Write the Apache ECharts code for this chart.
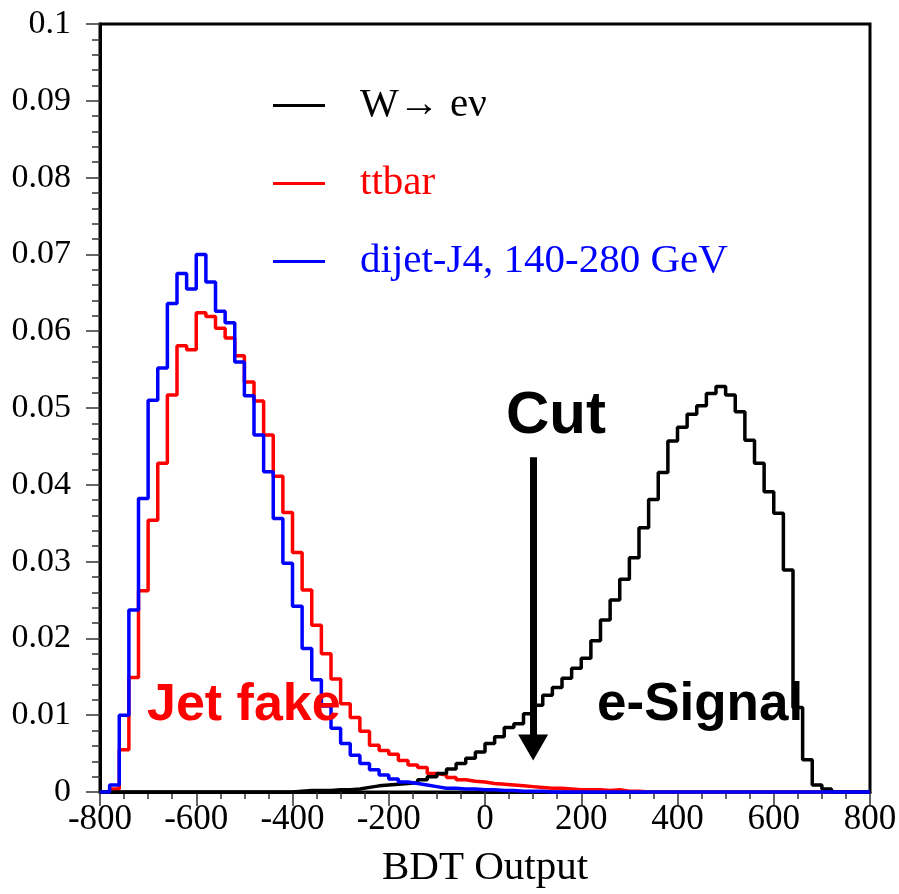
<!DOCTYPE html>
<html>
<head>
<meta charset="utf-8">
<script src="https://cdn.jsdelivr.net/npm/echarts@6/dist/echarts.min.js"></script>
<style>
  html, body { margin: 0; padding: 0; background: #fff; }
  #chart { width: 899px; height: 894px; }
</style>
</head>
<body>
<div id="chart"></div>
<script>
// Histogram binning: 80 bins of width 20 from -800 to 800
const BIN_MIN = -800;
const BIN_WIDTH = 20;

// Normalised BDT output distributions (fraction per bin)
const wenu = [
  0, 0, 0, 0, 0, 0, 0, 0, 0, 0,
  0, 0, 0, 0, 0, 0, 0, 0, 0, 0,
  0.0001, 0.0002, 0.0002, 0.0002, 0.0003, 0.0003, 0.0004, 0.0006, 0.0008, 0.0009,
  0.0010, 0.0011, 0.0012, 0.0016, 0.0020, 0.0024, 0.0030, 0.0037, 0.0044, 0.0052,
  0.0063, 0.0072, 0.0084, 0.0089, 0.0102, 0.0113, 0.0126, 0.0136, 0.0148, 0.0161,
  0.0174, 0.0197, 0.0224, 0.0250, 0.0277, 0.0305, 0.0344, 0.0381, 0.0416, 0.0457,
  0.0475, 0.0492, 0.0503, 0.0519, 0.0528, 0.0517, 0.0495, 0.0458, 0.0428, 0.0391,
  0.0363, 0.0289, 0.0110, 0.0042, 0.0009, 0.0004, 0, 0, 0, 0
];

const ttbar = [
  0, 0.0004, 0.0055, 0.0149, 0.0262, 0.0354, 0.0428, 0.0517, 0.0581, 0.0576,
  0.0624, 0.0619, 0.0604, 0.0591, 0.0568, 0.0534, 0.0509, 0.0465, 0.0411, 0.0364,
  0.0312, 0.0263, 0.0217, 0.0180, 0.0147, 0.0115, 0.0097, 0.0079, 0.0061, 0.0054,
  0.0049, 0.0041, 0.0035, 0.0032, 0.0024, 0.0022, 0.0019, 0.0016, 0.0014, 0.0013,
  0.0011, 0.0010, 0.0009, 0.0008, 0.0007, 0.0006, 0.0005, 0.0005, 0.0004, 0.0003,
  0.0003, 0.0003, 0.0002, 0.0003, 0.0001, 0.0001, 0, 0, 0, 0,
  0, 0, 0, 0, 0, 0, 0, 0, 0, 0,
  0, 0, 0, 0, 0, 0, 0, 0, 0, 0
];

const dijet = [
  0, 0.0009, 0.0100, 0.0237, 0.0382, 0.0510, 0.0552, 0.0636, 0.0675, 0.0655,
  0.0700, 0.0664, 0.0626, 0.0611, 0.0560, 0.0516, 0.0465, 0.0417, 0.0356, 0.0298,
  0.0242, 0.0187, 0.0146, 0.0112, 0.0083, 0.0063, 0.0048, 0.0037, 0.0029, 0.0022,
  0.0017, 0.0013, 0.0011, 0.0009, 0.0007, 0.0005, 0.0005, 0.0004, 0.0004, 0.0003,
  0.0003, 0.0002, 0.0002, 0.0001, 0.0001, 0.0001, 0, 0, 0, 0,
  0, 0, 0, 0, 0, 0, 0, 0, 0, 0,
  0, 0, 0, 0, 0, 0, 0, 0, 0, 0,
  0, 0, 0, 0, 0, 0, 0, 0, 0, 0
];

const seriesNames = ['W\u2192 e\u03bd', 'ttbar', 'dijet-J4, 140-280 GeV'];
const seriesColors = ['#000000', '#ff0000', '#0000ff'];

// Cut position on the BDT output and the vertical extent of its arrow
const cutValue = 100;
const cutArrow = [0.0436, 0.0058];

// Turn bin contents into step-line points at the bin edges
function histPoints(vals) {
  const pts = vals.map((v, i) => [BIN_MIN + i * BIN_WIDTH, v]);
  pts.push([BIN_MIN + vals.length * BIN_WIDTH, vals[vals.length - 1]]);
  return pts;
}

const serif = 'Liberation Serif, Times New Roman, serif';
const sans = 'Liberation Sans, Arial, sans-serif';

function histSeries(idx, vals, z, extra) {
  return Object.assign({
    name: seriesNames[idx],
    type: 'line',
    step: 'end',
    data: histPoints(vals),
    showSymbol: false,
    symbol: 'none',
    clip: false,
    z: z,
    lineStyle: { color: seriesColors[idx], width: 3.5 },
    itemStyle: { color: seriesColors[idx] },
    animation: false
  }, extra || {});
}

const chart = echarts.init(document.getElementById('chart'), null, { renderer: 'canvas' });

chart.setOption({
  backgroundColor: '#ffffff',
  animation: false,
  grid: {
    left: 100, top: 24, width: 770, height: 768,
    outerBoundsMode: 'none',
    containLabel: false,
    show: true, borderColor: '#000', borderWidth: 3, backgroundColor: 'transparent'
  },
  legend: {
    orient: 'vertical',
    left: 268,
    top: 80,
    itemWidth: 52,
    itemHeight: 3,
    itemGap: 37,
    icon: 'rect',
    selectedMode: false,
    textStyle: { fontFamily: serif, fontSize: 41, padding: [0, 0, 0, 30] },
    data: [
      { name: seriesNames[0], textStyle: { color: seriesColors[0] } },
      { name: seriesNames[1], textStyle: { color: seriesColors[1] } },
      { name: seriesNames[2], textStyle: { color: seriesColors[2] } }
    ]
  },
  xAxis: {
    type: 'value',
    min: -800, max: 800, interval: 200,
    name: 'BDT Output',
    nameLocation: 'middle',
    nameGap: 56,
    nameTextStyle: { fontFamily: serif, fontSize: 41, color: '#000' },
    axisLine: { show: true, onZero: false, lineStyle: { color: '#000', width: 3 } },
    axisTick: { show: true, inside: false, length: 14, lineStyle: { color: '#333', width: 1.5 } },
    minorTick: { show: true, splitNumber: 4, length: 7, lineStyle: { color: '#333', width: 1.5 } },
    splitLine: { show: false },
    axisLabel: { fontFamily: serif, fontSize: 35, color: '#000', margin: 10 }
  },
  yAxis: {
    type: 'value',
    min: 0, max: 0.1, interval: 0.01,
    axisLine: { show: true, onZero: false, lineStyle: { color: '#000', width: 3 } },
    axisTick: { show: true, inside: false, length: 14, lineStyle: { color: '#333', width: 1.5 } },
    minorTick: { show: true, splitNumber: 5, length: 8, lineStyle: { color: '#333', width: 1.5 } },
    splitLine: { show: false },
    axisLabel: {
      fontFamily: serif, fontSize: 34, color: '#000', margin: 29,
      formatter: v => String(+v.toFixed(2))
    }
  },
  series: [
    histSeries(1, ttbar, 3),
    histSeries(0, wenu, 4, {
      markLine: {
        silent: true,
        animation: false,
        symbol: ['none', 'triangle'],
        symbolSize: [30, 26],
        label: { show: false },
        lineStyle: { color: '#000', width: 7, type: 'solid' },
        emphasis: { disabled: true },
        data: [[{ coord: [cutValue, cutArrow[0]] }, { coord: [cutValue, cutArrow[1]] }]]
      }
    }),
    histSeries(2, dijet, 5)
  ],
  graphic: [
    {
      type: 'text', left: 506, top: 386, z: 100,
      style: { text: 'Cut', font: 'bold 60px ' + sans, fill: '#000' }
    },
    {
      type: 'text', left: 147, top: 680, z: 100,
      style: { text: 'Jet fake', font: 'bold 52px ' + sans, fill: '#ff0000' }
    },
    {
      type: 'text', left: 597, top: 679, z: 100,
      style: { text: 'e-Signal', font: 'bold 53px ' + sans, fill: '#000' }
    }
  ]
});
</script>
</body>
</html>
